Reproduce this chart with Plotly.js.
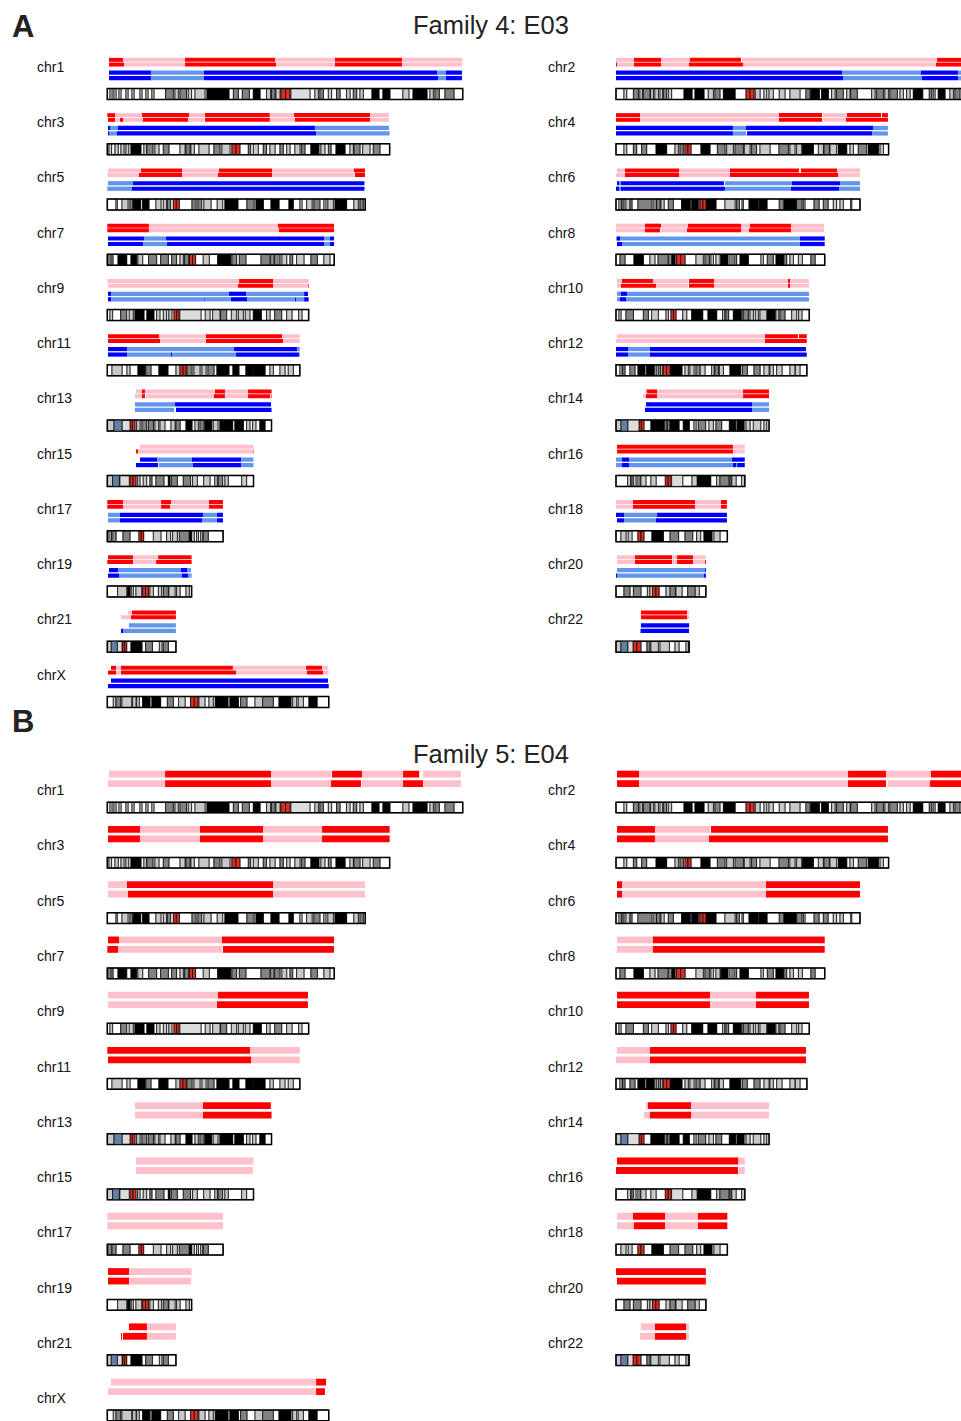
<!DOCTYPE html>
<html><head><meta charset="utf-8">
<script src="https://cdn.plot.ly/plotly-3.0.1.min.js"></script>
<style>html,body{margin:0;padding:0;background:#fff}#chart{width:961px;height:1421px}</style>
</head><body><div id="chart"></div>
<script>
// ---------------- DATA ----------------
const chromNames = ['chr1','chr2','chr3','chr4','chr5','chr6','chr7','chr8','chr9','chr10','chr11','chr12','chr13','chr14','chr15','chr16','chr17','chr18','chr19','chr20','chr21','chr22','chrX'];
const chromLengths = [249.25,243.2,198.0,191.15,180.9,171.1,159.14,146.36,141.2,135.53,135.0,133.85,115.17,107.35,102.53,90.35,81.2,78.08,59.13,63.03,48.13,51.3,155.27];
const panelTitles = ['Family 4: E03','Family 5: E04'];
const panelLetters = ['A','B'];

// haplotype segments: "start STATE boundary STATE ... end"  (R red, P pink, B blue, L light blue, _ none)
const e03Red1 = [
 "1.2 R 11 P 54.5 R 117.6 P 159.5 R 206.7 P 249",
 "0 P 12.6 R 31.6 P 51.9 R 87.7 _ 88.4 P 225.1 R 243.2",
 "0 R 5.4 P 24.3 R 57.3 P 68.5 R 114 P 130.9 R 184.2 P 197.5",
 "0 R 16.8 P 114.3 R 144.5 _ 145.2 P 162 R 185.8 _ 186.5 R 190.7",
 "0.5 P 23.6 R 52.4 P 78.3 R 115.5 P 173 R 180.7",
 "0.7 P 6.3 R 44.2 P 79.9 R 128.3 _ 129.7 R 155 P 171.1",
 "0 R 29.2 P 119.7 R 159",
 "0 P 20.3 R 31.6 P 50.5 R 87.7 P 94 R 122.7 P 145.9",
 "0 P 92.4 R 116.2 P 141.2",
 "0.7 P 4.2 R 25.9 P 50.5 _ 51.2 R 68.7 P 120.6 R 122 P 135.3",
 "0.5 R 36.3 P 69.2 R 122.5 P 135",
 "0.7 P 104.5 R 127.6 _ 128.3 R 133.8",
 "20.1 P 24.3 R 26.4 P 75.5 R 82.5 P 98.7 R 115.2",
 "20.3 P 21.7 R 28.8 P 89.1 R 107.3",
 "22.9 P 102.5",
 "0.7 R 82 P 90.3",
 "0 R 11 P 37.7 R 44.7 P 71.3 R 81.1",
 "0 P 11.9 R 55.4 P 73.6 R 77.8",
 "0.5 R 18 P 35.6 R 59.1",
 "0.7 P 13.3 R 39.3 P 42.8 R 54 P 63",
 "14.5 P 17.3 R 48.1",
 "17.5 R 49.8 P 51.2",
 "2.6 R 6.1 P 9.6 R 88.1 P 139.3 R 150.6 P 154.8"
];
const e03Red2 = [
 "1.2 R 11.7 P 54.5 R 118.3 P 159.5 R 206.7 P 249",
 "0 R 0.7 P 12.6 R 31.6 P 51.2 R 89.1 P 224.4 R 243.2",
 "0.5 R 5.4 P 8.9 R 11 P 25 R 56.6 P 67.8 _ 68.5 R 114 P 131.6 R 184.2 P 197.5",
 "0 R 16.8 P 114.3 R 144.5 _ 145.2 P 161.3 R 190.7",
 "0 P 22.2 R 52.4 P 77.6 R 115.5 P 173 _ 173.7 R 180.7",
 "0 P 6.3 R 44.2 P 79.9 R 155.7 P 171.1",
 "0 R 29.2 P 120.4 R 159",
 "0 P 20.3 R 30.9 _ 31.6 P 49.8 R 87.7 P 93.3 R 122.7 P 145.9",
 "0.5 P 91.7 R 116.2 P 140.7 R 141.2",
 "0.7 P 3.5 R 28 P 50.5 _ 51.2 R 68.7 P 120.6 R 122 P 135.3",
 "0.5 R 37 P 69.2 R 123.2 P 135",
 "0 P 104.5 R 133.8",
 "19.4 P 24.3 R 26.4 _ 27.1 P 74.8 R 82.5 P 98.7 R 114.1 P 114.8 R 115.2",
 "18.9 P 21 R 28.8 P 89.1 R 107.3",
 "20.1 R 21.5 P 102 R 102.5",
 "0.7 R 82 P 90.3",
 "0 R 11 P 37.7 R 44 P 71.3 R 81.1",
 "0 P 11.9 R 55.4 P 73.6 R 77.8",
 "0 R 18 P 34.2 R 59.1",
 "0.7 P 13.3 R 39.3 P 42.8 R 54 P 62.4 R 63",
 "9.6 P 16.6 R 48.1",
 "17.5 R 49.8 P 51.2",
 "0.5 R 6.1 P 9.6 R 90.3 P 140 R 151.3 P 155.3"
];
const e03Blue1 = [
 "1.2 B 30.6 L 67.8 B 231.2 L 237.5 B 248.7",
 "0 B 158.5 L 213.9 B 239.8 L 243.2",
 "0.5 B 1.9 L 7.5 B 145.6 L 197.5",
 "0 B 82 L 91.2 B 180.2 L 190.7",
 "0.5 L 18 B 180 L 180.7",
 "0.7 B 2.1 L 3.5 B 75.7 _ 76.4 L 123.4 B 157.1 L 171.1",
 "0.5 B 25.7 L 41.2 B 152 L 156.2 B 159",
 "0 L 0.7 B 2.8 L 129 B 146.4",
 "0.5 B 2.6 L 85.3 B 97.3 L 138 B 140.7",
 "0.7 L 3.5 B 7.7 L 135.3",
 "0.5 B 13.8 L 88.9 B 133 L 135",
 "0 B 8.4 L 23.8 B 133.2",
 "19.4 L 47.5 B 114.8",
 "21 B 95.4 L 107.3",
 "22.9 B 34.9 L 59.4 B 93.8 L 102.5",
 "0 L 4.2 B 9.1 L 81.3 B 90.3",
 "0.5 L 8.9 B 67.1 L 76.9 B 81.1",
 "0 B 5.6 L 28.8 B 77.8",
 "1.2 B 7.5 L 51.7 B 55.9 L 58.7",
 "0.7 L 62.4 B 63",
 "15.2 L 48.1",
 "17.5 B 51.3",
 "2.6 B 154.8"
];
const e03Blue2 = [
 "1.2 B 30.6 L 67.8 B 231.9 L 237.5 B 248.7",
 "0 B 159.2 L 214.6 B 239.8 L 243.2",
 "0.5 B 1.2 L 6.8 B 146.4 L 198",
 "0 B 82 L 91.2 _ 91.9 B 179.5 L 190.7",
 "0 L 17.3 B 180 L 180.7",
 "0 B 2.1 L 3.5 B 76.4 L 122.7 B 156.4 L 171.1",
 "0.5 B 25 L 41.9 B 152 L 156.2 B 159",
 "0.7 B 4.2 L 129 B 146.4",
 "0.5 B 2.6 L 67.8 B 68.3 L 86.7 B 98 L 131.6 B 132.3 L 138 B 141.2",
 "0.7 L 2.8 B 7 L 135.3",
 "0.5 B 13.8 L 44.7 B 45.4 L 90.3 B 134.4 L 135",
 "0 B 8.4 L 23.8 B 133.8",
 "19.4 L 46.8 _ 48.2 B 115.2",
 "20.3 B 95.4 L 107.3",
 "20.1 B 35.6 _ 36.3 L 60.1 B 93.8 L 102.5",
 "0 L 4.2 B 9.1 L 82 B 84.2 L 84.9 B 90.3",
 "0.5 L 8.9 B 66.4 L 76.9 B 81.1",
 "0.7 B 5.6 L 28 B 77.8",
 "0.5 B 8.2 L 52.4 B 56.6 L 59.1",
 "0 B 0.7 L 61.7 B 63",
 "9.6 B 11 L 48.1",
 "16.8 L 17.5 B 51.2",
 "0.5 B 155.3"
];
const e04Red1 = [
 "1.2 P 40.5 R 114.8 P 156.9 _ 157.6 R 178.6 P 207.4 R 218.7 _ 221.5 P 248",
 "0.7 R 16.1 P 162.7 R 189.3 P 220.9 R 243.2",
 "0.5 R 22.9 P 65 R 109.2 P 150.6 R 198",
 "0.7 R 27.3 P 65.9 _ 66.6 R 190.7",
 "0.5 P 13.8 R 116.2 P 180.7",
 "0.7 R 4.2 P 105.2 R 171.1",
 "0.5 R 8.2 P 80.4 R 159",
 "0.7 P 25.9 R 146.4",
 "0.5 P 77.6 R 140.7",
 "0.7 R 65.9 P 98.2 R 135.3",
 "0 R 100.1 P 135",
 "0.7 P 23.8 R 133.2",
 "19.4 P 67.1 R 114.7",
 "21 P 22.4 R 52.6 P 107.3",
 "20.1 P 102.5",
 "0.7 R 85.6 P 90.3",
 "0 P 81.1",
 "0.7 P 11.9 R 34.4 P 57.5 R 78.1",
 "0.5 R 15.2 P 59.1",
 "0 R 63",
 "15.2 R 27.8 P 48.1",
 "17.5 P 27.3 R 49.1 P 51.2",
 "2.6 P 146.4 R 153.4"
];
const e04Red2 = [
 "0.5 P 40.5 R 114.8 P 156.9 R 177.9 _ 178.6 P 207.4 R 221.5 P 248",
 "0.7 R 16.1 P 162.7 R 189.3 _ 190.7 P 220.2 R 243.2",
 "0.5 R 22.9 P 65 R 109.2 P 150.6 R 198",
 "0.7 R 27.3 P 65.2 R 190.7",
 "0.5 P 14.5 R 116.2 P 180.7",
 "0.7 R 4.2 P 105.2 R 171.1",
 "0 R 7.5 P 80.4 _ 81.1 R 159",
 "0.7 P 25.9 R 146.4",
 "0.5 P 76.9 R 140.7",
 "0.7 R 65.9 P 98.2 R 135.3",
 "0.5 R 100.8 P 135",
 "0 P 23.8 R 133.2",
 "19.4 P 67.1 R 115.2",
 "19.6 P 23.8 R 52.6 P 107.3",
 "20.1 P 102.2",
 "0 R 85.6 _ 86.3 P 90.3",
 "0 P 81.1",
 "0.7 P 12.6 R 34.4 P 57.5 R 78.1",
 "0.5 R 15.2 P 58.7",
 "0.7 R 63",
 "9.6 R 10.3 _ 11 R 27.8 P 48.1",
 "16.8 P 27.3 R 49.1 P 51.2",
 "0.5 P 146.4 R 152.6"
];

// cytobands "start:end:stain"  (l light gray, g gray, k black, c centromere, v heterochromatin, s stalk; gaps are unstained)
const cytobands = [
 "1.9:3.3:l 4.7:6.1:l 8.2:9.6:l 13.1:14.5:l 17.3:18.7:l 22.9:24.3:l 27.1:28.5:l 31.3:32.7:l 40.9:46.3:g 47.5:49.8:l 51:55.6:g 56.8:59.1:l 61.5:68.5:l 69.9:85.3:k 88.4:91.9:g 94.7:99.6:g 102.4:107.1:k 111.7:114.5:l 115.2:117.6:g 118.3:121.1:l 121.8:125:c 125:128.1:c 128.8:142.1:v 145.6:148:l 149.1:151.5:g 155:157.3:l 160.8:163.2:g 167.8:170.2:l 172.5:174.9:g 177.2:179.5:l 185.6:190.5:k 193.3:198.2:k 207.3:211.5:l 214.4:224.2:k 226.3:228.6:l 229.8:232.8:g 236.8:243.1:g",
 "5.6:7.5:l 12.2:15.7:g 16.8:18.5:l 19.2:23.8:g 24.3:26.2:l 27.3:29.7:l 30.9:32.7:l 33.2:35.5:g 36.7:39:l 47.7:53.3:k 55.4:61.7:k 64.7:68.3:l 69.4:72.9:g 75.3:83.5:k 91.2:94:c 94:96.8:c 97.7:101:l 103.8:105.7:l 107.3:110.3:l 114.5:118.5:l 122:129:l 133.2:136:g 136.7:142.6:k 144.2:148.9:k 151.2:153.6:l 154.7:159.4:g 161.8:164.1:l 164.6:169.2:g 179.3:181.6:l 182.8:187.5:g 188.6:191:l 192.1:197.3:g 199.2:201.5:l 203.8:206.2:l 208.5:215.1:k 219.7:221.4:g 222.5:223.7:l 226:230.7:k 234.2:236.6:l 237.7:241.2:g",
 "1.2:3:l 5.4:7.7:l 9.6:11.7:l 13.1:15:l 16.6:23.6:k 25.7:27.6:l 27.8:32:g 33.4:36.2:l 39.3:43.2:g 51:54.5:l 55.2:58:g 58.7:61:l 64.3:71.3:l 74.8:79:g 80.4:86:l 87.4:90.2:c 90.2:93:c 98.9:100.5:g 102.4:105.9:l 109.4:111.7:g 114.1:117.6:l 121.1:123.4:g 125.8:128.1:l 131.6:135.1:l 136.3:138.6:g 142.8:148.4:k 149.8:152.6:l 155:156.9:g 160.4:166.7:k 170.2:172.5:l 173:177.2:g 179.1:184.2:l 186.5:191.2:g",
 "5.6:7.5:l 12.2:14.5:g 18:21.5:g 28.1:35.5:k 41.4:43.7:l 44.9:47.2:g 48.4:50.5:c 50.5:52.6:c 59.6:65.9:k 71.1:76.4:g 77.6:82.3:l 83.5:89.3:g 90:94:l 95.1:98.6:g 101:108:l 114.3:120.9:g 122:125.5:l 126.7:130.2:l 130.9:138.4:k 141.9:145.4:l 145.9:149.6:g 150.1:154.7:l 155.9:161.8:k 164.1:166.5:l 169.9:175.8:g 177:184:k 185.2:187.5:l",
 "6.1:7:l 10.3:14.5:l 15.9:17.8:g 18.2:23.4:k 24.8:29.2:k 34.1:37.6:l 39.3:41.6:l 42.1:44.4:g 46.3:48.4:c 48.4:50.5:c 59.4:62.2:g 63.6:66.2:g 67.8:72.7:l 77.1:80.9:l 82.5:91.6:k 97.9:102.9:g 104.3:109.4:k 114.8:120.4:k 127.4:130.4:k 135.1:136.5:l 139.8:143.6:l 144.9:149.1:g 151.9:153.3:l 154.7:158.5:l 159.7:167.8:k 172.9:176:l 177.2:179.5:g",
 "2.1:3.5:l 4.2:5.6:g 7:9.8:l 9.8:11.2:g 15.4:25.2:g 26.6:28.1:l 28.5:30.9:g 31.6:33.7:l 36.7:40.2:g 46:51.9:k 52.6:53.3:l 53.3:57.5:k 57.5:58.9:g 58.9:61:c 61:63.1:c 63.1:70.1:k 76.4:83.5:l 84.6:86.5:g 88.4:89.3:l 93.3:99.6:k 100.3:105.9:k 114.5:117.8:g 117.8:126.2:k 126.7:130.4:g 131.4:132.5:l 138.9:142.4:g 145.4:148.7:g 152.4:154.7:l 157.1:159.4:l 164.6:165.3:l",
 "1.2:2.6:l 2.6:4:g 7.5:13.6:k 16.6:20.6:k 21.5:24.8:l 29:34.6:g 37.4:42.8:g 45.1:48.6:g 51:53.3:l 54.2:57:g 57.7:59.8:c 59.8:61.9:c 67.3:71.5:l 77.4:86.5:k 87.4:90.7:g 92.6:97.2:g 107.8:114.1:g 114.8:116.3:l 117.3:121.1:g 122.5:125.8:l 128.1:130:g 132.8:137.9:l 142.8:147.3:g 151.9:156.1:l",
 "2.8:6.3:g 12.6:19.2:k 23.8:27.3:l 29.5:36.5:g 37.2:38.6:l 39.3:41.4:k 42.5:45.4:c 45.4:48.4:c 56.1:61.2:l 62.4:65.5:g 66.6:68.3:l 70.1:72.9:l 73.6:78.5:k 79.9:81.3:l 82.8:84.6:g 87:92.8:k 101.7:103.3:l 106.1:110.3:g 112.2:117.3:k 117.8:119.7:g 122:124.4:l 127.9:130.7:l 136.7:139.6:g",
 "1.9:3.7:l 9.4:13.6:g 15.4:18.2:l 19.4:25.7:k 27.8:32.7:k 34.6:36.9:l 39.3:41.6:l 43.2:45.3:l 46.8:48.6:c 48.6:50.3:c 50.9:65.7:v 68.7:72:l 73.9:79:l 79.5:83.7:g 87:90.7:l 91.9:95.4:l 96.8:100:l 102.4:108:k 111.7:114.1:l 117.4:122.3:g 125.8:129.5:l 134.2:136.5:l",
 "2.1:3.5:l 7:12.2:g 19.2:22.7:g 25:29.7:l 35.1:36.7:l 38.6:40.3:c 40.3:42.1:c 46.8:49.6:l 53.1:60.8:k 64.5:70.6:k 74.8:76.2:l 77.1:79:g 82.3:87.7:k 88.4:89.3:l 89.3:92.8:g 94:96.3:l 97.7:99.8:l 101:105.7:l 106.1:111.5:k 112.2:114.1:l 115:118.5:g 123.2:126.7:l 128.1:130.4:l",
 "3.3:10.3:l 13.8:15.9:l 21.5:26.4:k 27.1:30.6:g 36.2:42.5:k 48.2:51:l 51:53.1:c 53.1:55.2:c 55.9:59.4:g 60.8:65:l 66.4:69.2:l 70.6:74.8:g 76.9:85.3:k 88.1:92.3:k 97.2:102.4:k 102.9:110.6:k 114.1:116.4:l 121.1:124.6:l 126.9:130.4:l",
 "2.8:4.2:l 4.7:6.3:g 9.8:13.3:g 15.4:20.3:k 21.5:26.6:k 27.3:28.5:l 29.7:31.3:g 31.3:32.7:l 33.2:35.5:c 35.5:37.9:c 38.3:46.3:k 48.4:50.7:l 51.9:54.7:l 56.1:58.9:g 58.9:62.4:l 67.1:68.7:l 69.4:71.8:g 72.5:75.3:l 79.9:87.4:k 88.6:92.1:g 96.8:101:g 103.8:107.3:l 108:110.3:l 112.7:116.4:l 122:125.5:l 125.8:129:l",
 "0:4.7:l 4.7:10.3:s 10.3:15.9:v 15.9:17.6:c 17.6:19.4:c 20.6:22.9:l 24.3:27.6:g 28.8:32.3:g 33.4:36:l 37:40.4:l 44.7:47.5:l 48.2:51:g 55.2:59.4:k 61.5:63.8:l 65:67.8:g 68.5:73.2:k 74.3:77.6:l 79:87.9:k 89.5:95.4:k 97.7:100:l 101.9:104.2:l 107:110.6:k",
 "0:3.5:l 3.5:8.4:s 8.4:16.1:v 16.1:17.8:c 17.8:19.6:c 24.5:33.7:k 34.4:35.5:l 36.2:37.9:g 37.9:44.2:k 47.2:51.4:k 54.7:56.1:l 57.7:62.9:g 65.2:68.3:l 70.1:74.1:g 79.5:83.9:k 84.9:89.8:k 91.2:94:l 96.3:101.5:l 103.8:105.7:l",
 "0:3.7:l 3.7:8.4:s 8.9:15.4:v 15.9:18:c 18:20.1:c 21.3:22.9:l 25.2:27.6:l 29.9:31.3:g 34.1:39.7:g 42.8:43.9:k 44.9:49.1:g 53.3:58.4:g 59.8:63.1:l 67.6:72:l 75.4:77.1:l 77.8:80.9:g 82.5:84.8:l 94.2:97.7:l",
 "8.2:10.3:l 10.3:11.2:g 12.2:14:l 15.4:16.8:l 17.5:21:l 24.5:28.1:l 34.6:36.6:c 36.6:38.6:c 39:46.8:v 53.3:57:l 57:66.4:k 70.6:72.9:l 72.9:79.2:g 79.9:80.6:l 81.3:84.2:l 88.1:90.3:l",
 "1.2:2.6:l 3.3:6.1:g 11:15.9:g 22.2:23.9:c 23.9:25.5:c 32.3:37.6:l 41.6:44.4:l 45.8:49.1:l 50.5:57.5:g 57.5:59.1:k 59.1:61:l 62.6:64:l 65.5:66.9:l 67.3:70.8:g",
 "3.5:7:l 8.6:11.2:l 15.4:17.5:c 17.5:19.6:c 25.2:33.2:k 37.9:43.9:g 48.4:53.8:g 56.6:59.4:l 61.7:67.3:k 68.7:72.9:l",
 "7.2:13.6:l 14.3:15.9:k 16.8:18.2:l 20.1:24.1:l 24.8:26.8:c 26.8:28.8:c 29.9:32.3:l 35.8:38.1:l 39.3:42.8:g 43.2:47.5:l 48.6:51:l 55.2:57.5:l",
 "5.6:9.8:g 12.2:17.5:g 22:23.8:l 23.8:25.7:l 25.7:28:c 28:30.2:c 35.1:37.9:l 37.9:41.6:g 42.1:46.3:l 50.3:55.4:g 55.4:58.4:l",
 "0:2.8:l 2.8:7:s 7:10.3:v 10.8:12.2:c 12.2:13.6:c 16.6:24.3:k 26.9:31.6:g 36.5:38.3:l 39.3:42.8:g",
 "0:3.5:l 3.5:8.4:s 8.4:11.9:v 11.9:14.7:c 14.7:17.5:c 21.7:23.8:g 24.5:29.7:l 30.9:37.4:l 41.4:44.2:l 49.1:50.7:l",
 "4.2:6.1:l 6.1:9.4:g 10.3:17.1:l 17.8:20.1:l 20.6:22.4:l 24.8:29.9:k 31.3:37.4:k 42.1:46.3:g 50:54.5:l 58.4:61:c 61:63.6:c 64.3:68.5:l 71.3:74.3:l 75.7:84.6:k 86:91.9:k 93.5:97.9:g 103.6:109:l 109:116.4:g 120.4:128.8:k 130:132.8:l 133.9:137.5:l 141.4:147.1:k"
];

// ---------------- STYLE / LAYOUT ----------------
const W = 961, H = 1421;
const FONT = 'Liberation Sans, Arial, Helvetica, sans-serif';
const HAP_COLORS = {R:'#ff0000', P:'#ffc0cb', B:'#0000ff', L:'#6495ed'};
const STAIN = {w:'#ffffff', l:'#c8c8c8', g:'#828282', k:'#000000', c:'#d92f27', v:'#dcdcdc', s:'#647fa4'};
const PX_PER_MB = 1.426;
const COL_X0 = [107.3, 616];
const LABEL_X = [34.5, 545.5];
const SPLIT = 0.52;
const ROW_STEP = 55.27;
const BAND_LINE = 0.7, OUTLINE = 1.5;

const panels = [
 {title:panelTitles[0], letter:panelLetters[0], titleY:24.5, letterY:26.5, top:66.7,
  rows:[{segs:e03Red1, off:-6.85, h:4}, {segs:e03Red2, off:-2.15, h:4}, {segs:e03Blue1, off:6.0, h:4.2}, {segs:e03Blue2, off:11.5, h:4.2}],
  ideoOff:27.3, ideoH:11},
 {title:panelTitles[1], letter:panelLetters[1], titleY:754, letterY:721, top:790.2,
  rows:[{segs:e04Red1, off:-16.1, h:6.8}, {segs:e04Red2, off:-6.6, h:6.8}],
  ideoOff:17.3, ideoH:10.7}
];

function colOf(i){ return i === 22 ? 0 : (i % 2 === 0 ? 0 : 1); }
function rowOf(i){ return i === 22 ? 11 : Math.floor(i / 2); }

function parseSegs(str){
  const t = str.trim().split(/\s+/);
  const out = [];
  for (let i = 1; i < t.length; i += 2){
    const s = +t[i-1], e = +t[i+1], st = t[i];
    if (st !== '_' && e > s) out.push({s, e, st});
  }
  return out;
}
function parseBands(str, len){
  const bands = str.trim().split(/\s+/).map(tok => { const p = tok.split(':'); return {s:+p[0], e:Math.min(+p[1], len), st:p[2]}; })
    .sort((a,b) => a.s - b.s);
  const out = []; let pos = 0;
  bands.forEach(b => { if (b.s > pos + 0.05) out.push({s:pos, e:b.s, st:'w'}); out.push(b); pos = Math.max(pos, b.e); });
  if (len > pos + 0.05) out.push({s:pos, e:len, st:'w'});
  return out;
}

const buckets = new Map();
function addBar(axis, fill, lw, s, e, y, h){
  const key = axis + '|' + fill + '|' + lw;
  if (!buckets.has(key)) buckets.set(key, {type:'bar', orientation:'h', xaxis:axis, yaxis:'y',
    x:[], base:[], y:[], width:[], hoverinfo:'skip', showlegend:false,
    marker:{color:fill, line:{width:lw, color: lw > 0 ? '#000000' : 'rgba(0,0,0,0)'}}});
  const t = buckets.get(key);
  t.base.push(s); t.x.push(e - s); t.y.push(y); t.width.push(h);
}

const annotations = [];
panels.forEach(p => {
  annotations.push({xref:'paper', yref:'y', x:491/W, y:p.titleY, text:p.title, showarrow:false,
    xanchor:'center', yanchor:'middle', font:{family:FONT, size:25.5, color:'#222'}});
  annotations.push({xref:'paper', yref:'y', x:9.5/W, y:p.letterY, text:'<b>' + p.letter + '</b>', showarrow:false,
    xanchor:'left', yanchor:'middle', font:{family:FONT, size:31, color:'#222'}});
  chromNames.forEach((name, i) => {
    const col = colOf(i), row = rowOf(i);
    const axis = col === 0 ? 'x' : 'x2';
    const L = p.top + row * ROW_STEP;
    const len = chromLengths[i];
    p.rows.forEach(r => {
      parseSegs(r.segs[i]).forEach(seg => addBar(axis, HAP_COLORS[seg.st], 0, seg.s, Math.min(seg.e, len), L + r.off, r.h));
    });
    const yI = L + p.ideoOff;
    parseBands(cytobands[i], len).forEach(b => addBar(axis, STAIN[b.st], BAND_LINE, b.s, b.e, yI, p.ideoH));
    addBar(axis, 'rgba(0,0,0,0)', OUTLINE, 0, len, yI, p.ideoH);
    annotations.push({xref:'paper', yref:'y', x:LABEL_X[col]/W, y:L, text:name, showarrow:false,
      xanchor:'left', yanchor:'middle', font:{family:FONT, size:14, color:'#111'}});
  });
});

const traces = Array.from(buckets.values());
const xr = (col, p0, p1) => [(p0 - COL_X0[col]) / PX_PER_MB, (p1 - COL_X0[col]) / PX_PER_MB];
const layout = {
  width: W, height: H, margin:{l:0, r:0, t:0, b:0}, showlegend:false,
  paper_bgcolor:'#ffffff', plot_bgcolor:'#ffffff', barmode:'overlay',
  xaxis:{domain:[0, SPLIT], range:xr(0, 0, SPLIT*W), visible:false, fixedrange:true, anchor:'y'},
  xaxis2:{domain:[SPLIT, 1], range:xr(1, SPLIT*W, W), visible:false, fixedrange:true, anchor:'y'},
  yaxis:{domain:[0, 1], range:[H, 0], visible:false, fixedrange:true, anchor:'x'},
  annotations: annotations
};
Plotly.newPlot('chart', traces, layout, {displayModeBar:false, staticPlot:true});
</script>
</body></html>
